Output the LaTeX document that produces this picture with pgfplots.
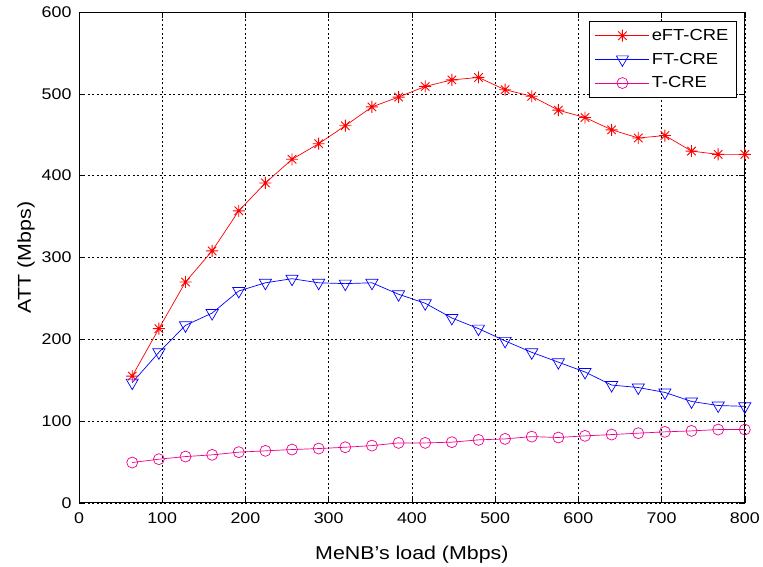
\documentclass[border=0pt]{standalone}
\usepackage{pgfplots}
\pgfplotsset{compat=1.18}
\usepackage{fontspec}
\setmainfont{Liberation Sans}[FakeStretch=1.15]

% eight-armed star marker (plus combined with cross)
\pgfdeclareplotmark{mstar}{%
  \pgfpathmoveto{\pgfqpoint{-\pgfplotmarksize}{0pt}}\pgfpathlineto{\pgfqpoint{\pgfplotmarksize}{0pt}}%
  \pgfpathmoveto{\pgfqpoint{0pt}{-\pgfplotmarksize}}\pgfpathlineto{\pgfqpoint{0pt}{\pgfplotmarksize}}%
  \pgfpathmoveto{\pgfqpoint{-0.707\pgfplotmarksize}{-0.707\pgfplotmarksize}}\pgfpathlineto{\pgfqpoint{0.707\pgfplotmarksize}{0.707\pgfplotmarksize}}%
  \pgfpathmoveto{\pgfqpoint{-0.707\pgfplotmarksize}{0.707\pgfplotmarksize}}\pgfpathlineto{\pgfqpoint{0.707\pgfplotmarksize}{-0.707\pgfplotmarksize}}%
  \pgfusepathqstroke}

\begin{document}
\begin{tikzpicture}
\begin{axis}[
  scale only axis,
  width=666pt, height=491pt,
  xmin=0, xmax=800, ymin=0, ymax=600,
  xtick={0,100,...,800}, ytick={0,100,...,600},
  tick pos=both, tick align=inside,
  major tick length=6pt,
  tick style={black, line width=0.6pt},
  axis line style={black, line width=0.9pt},
  grid=major,
  major grid style={black, line width=0.6pt, dash pattern=on 2pt off 2.5pt},
  /pgf/number format/assume math mode=true,
  tick label style={font=\fontsize{15.5}{18}\selectfont},
  xticklabel style={yshift=-6pt},
  yticklabel style={xshift=-4pt},
  label style={font=\fontsize{18.6}{22}\selectfont},
  xlabel={MeNB's load (Mbps)},
  ylabel={ATT (Mbps)},
  xlabel style={yshift=-16pt},
  ylabel style={yshift=0pt},
  legend cell align=left,
  legend style={at={(1,1)}, anchor=north east, xshift=-8pt, yshift=-9pt,
    font=\fontsize{16}{19}\selectfont, draw=black, line width=0.8pt,
    inner xsep=6pt, inner ysep=6pt, row sep=7pt},
  legend image code/.code={%
    \draw[mark repeat=2, mark phase=2, #1] plot coordinates {(0pt,0pt) (27pt,0pt) (54pt,0pt)};},
]
\addplot[red, line width=0.7pt, mark=mstar, mark size=6pt, mark options={line width=0.9pt}] coordinates {
(64,155) (96,213) (128,270) (160,308) (192,357) (224,391) (256,420) (288,439)
(320,461) (352,484) (384,496) (416,509) (448,517) (480,520) (512,505) (544,497)
(576,480) (608,471) (640,456) (672,446) (704,449) (736,430) (768,426) (800,426)};
\addlegendentry{eFT-CRE}
\addplot[blue, line width=0.7pt, mark=triangle, mark size=7pt, mark options={rotate=180, fill=none, line width=0.7pt}] coordinates {
(64,147) (96,184) (128,217) (160,232) (192,259) (224,269) (256,274) (288,269)
(320,268) (352,269) (384,255) (416,244) (448,226) (480,213) (512,198) (544,184)
(576,172) (608,160) (640,144) (672,141) (704,135) (736,124) (768,119) (800,118)};
\addlegendentry{FT-CRE}
\addplot[magenta, line width=0.7pt, mark=o, mark size=5.5pt, mark options={fill=none, line width=0.7pt}] coordinates {
(64,49.3) (96,53.4) (128,56.6) (160,58.7) (192,62) (224,63.6) (256,65.2) (288,66.4)
(320,68) (352,70) (384,73.3) (416,73.3) (448,74.2) (480,77) (512,78.2) (544,81)
(576,79.9) (608,81.9) (640,83.5) (672,85.2) (704,86.8) (736,88) (768,89.6) (800,89.6)};
\addlegendentry{T-CRE}
\end{axis}
\path (current axis.south west) ++(-79pt,-62pt) rectangle ++(763pt,565pt);
\end{tikzpicture}
\end{document}
